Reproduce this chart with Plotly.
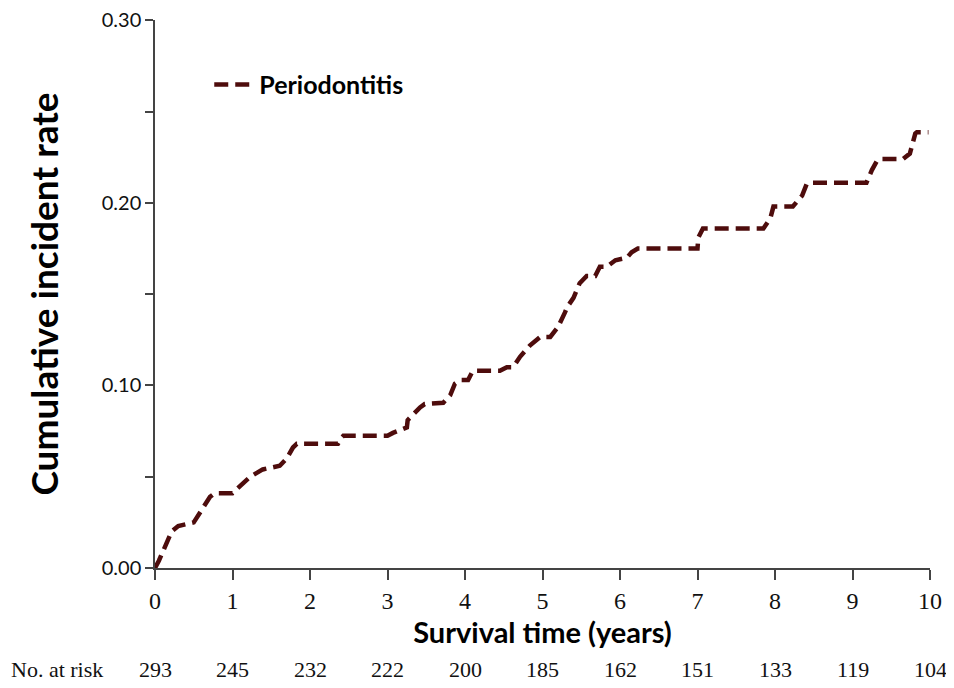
import plotly.graph_objects as go

# Curve
years = [0.0, 0.05, 0.215, 0.3, 0.5, 0.62, 0.71, 0.77, 1.0, 1.1, 1.23, 1.39, 1.61, 1.70, 1.78, 1.83,
         2.36, 2.40, 2.43, 3.0, 3.07, 3.25, 3.26, 3.42, 3.48, 3.72, 3.81, 3.87, 3.94, 4.04, 4.10,
         4.45, 4.54, 4.62, 4.71, 4.84, 4.97, 5.10, 5.20, 5.29, 5.32, 5.40, 5.48, 5.57, 5.68, 5.74,
         5.83, 5.94, 6.09, 6.15, 6.23, 7.0, 7.01, 7.07, 7.85, 7.94, 7.98, 8.02, 8.23, 8.35, 8.41,
         8.45, 9.18, 9.25, 9.32, 9.35, 9.65, 9.74, 9.81, 9.83, 9.98]
rate = [0.0, 0.004, 0.020, 0.023, 0.025, 0.033, 0.039, 0.041, 0.041, 0.045, 0.050, 0.054, 0.056, 0.060, 0.066, 0.068,
        0.068, 0.071, 0.0724, 0.0724, 0.074, 0.077, 0.081, 0.088, 0.0898, 0.0905, 0.0947, 0.101, 0.103, 0.103, 0.108,
        0.108, 0.110, 0.110, 0.1157, 0.122, 0.1266, 0.1266, 0.132, 0.140, 0.143, 0.148, 0.156, 0.160, 0.160, 0.165,
        0.165, 0.1686, 0.170, 0.173, 0.175, 0.175, 0.181, 0.186, 0.186, 0.1916, 0.198, 0.198, 0.198, 0.204, 0.2105,
        0.211, 0.211, 0.218, 0.2234, 0.224, 0.224, 0.227, 0.238, 0.2387, 0.2387]

x_ticks = [0, 1, 2, 3, 4, 5, 6, 7, 8, 9, 10]
y_ticks = [0.0, 0.05, 0.10, 0.15, 0.20, 0.25, 0.30]
y_tick_text = ["0.00", "", "0.10", "", "0.20", "", "0.30"]
at_risk = [293, 245, 232, 222, 200, 185, 162, 151, 133, 119, 104]

fig = go.Figure()
fig.add_trace(go.Scatter(
    x=years, y=rate, mode="lines", name="Periodontitis",
    line=dict(color="#4e0c0c", width=4.5, dash="14px,7px"),
))

annotations = []
for xv, n in zip(x_ticks, at_risk):
    annotations.append(dict(x=xv, y=-0.186, xref="x", yref="paper", text=str(n), showarrow=False,
                            yanchor="middle",
                            font=dict(family="Liberation Serif", size=22, color="#111")))
annotations.append(dict(x=-0.188, y=-0.186, xref="paper", yref="paper", text="No. at risk",
                        showarrow=False, xanchor="left", yanchor="middle",
                        font=dict(family="Liberation Serif", size=22, color="#111")))

fig.update_layout(
    width=946, height=680,
    margin=dict(l=147, r=24, t=12, b=120),
    plot_bgcolor="white", paper_bgcolor="white",
    showlegend=True,
    legend=dict(x=0.07, y=0.882, xanchor="left", yanchor="middle", bgcolor="rgba(0,0,0,0)",
                font=dict(family="Lato", size=25, color="#000", weight="bold"),
                itemwidth=40),
    xaxis=dict(range=[0, 10], tickvals=x_ticks, ticks="outside", ticklen=10, tickwidth=1.5,
               tickcolor="#444", showline=True, linecolor="#444", linewidth=1.5, showgrid=False,
               zeroline=False, automargin=False, ticklabeloverflow="allow",
               tickfont=dict(family="Liberation Serif", size=24, color="#111"),
               title=dict(text="<b>Survival time (years)</b>", standoff=4,
                          font=dict(family="Lato", size=29, color="#000"))),
    yaxis=dict(range=[0, 0.3002], tickvals=y_ticks, ticktext=y_tick_text, ticks="outside", ticklen=8,
               tickwidth=1.5, tickcolor="#444", showline=True, linecolor="#444", linewidth=1.5,
               showgrid=False, zeroline=False, automargin=False, ticklabeloverflow="allow",
               tickfont=dict(family="Lato", size=20, color="#111"),
               title=dict(text="<b>Cumulative incident rate</b>", standoff=32,
                          font=dict(family="Lato", size=37, color="#000"))),
    annotations=annotations,
)

fig.write_html("out.html")
